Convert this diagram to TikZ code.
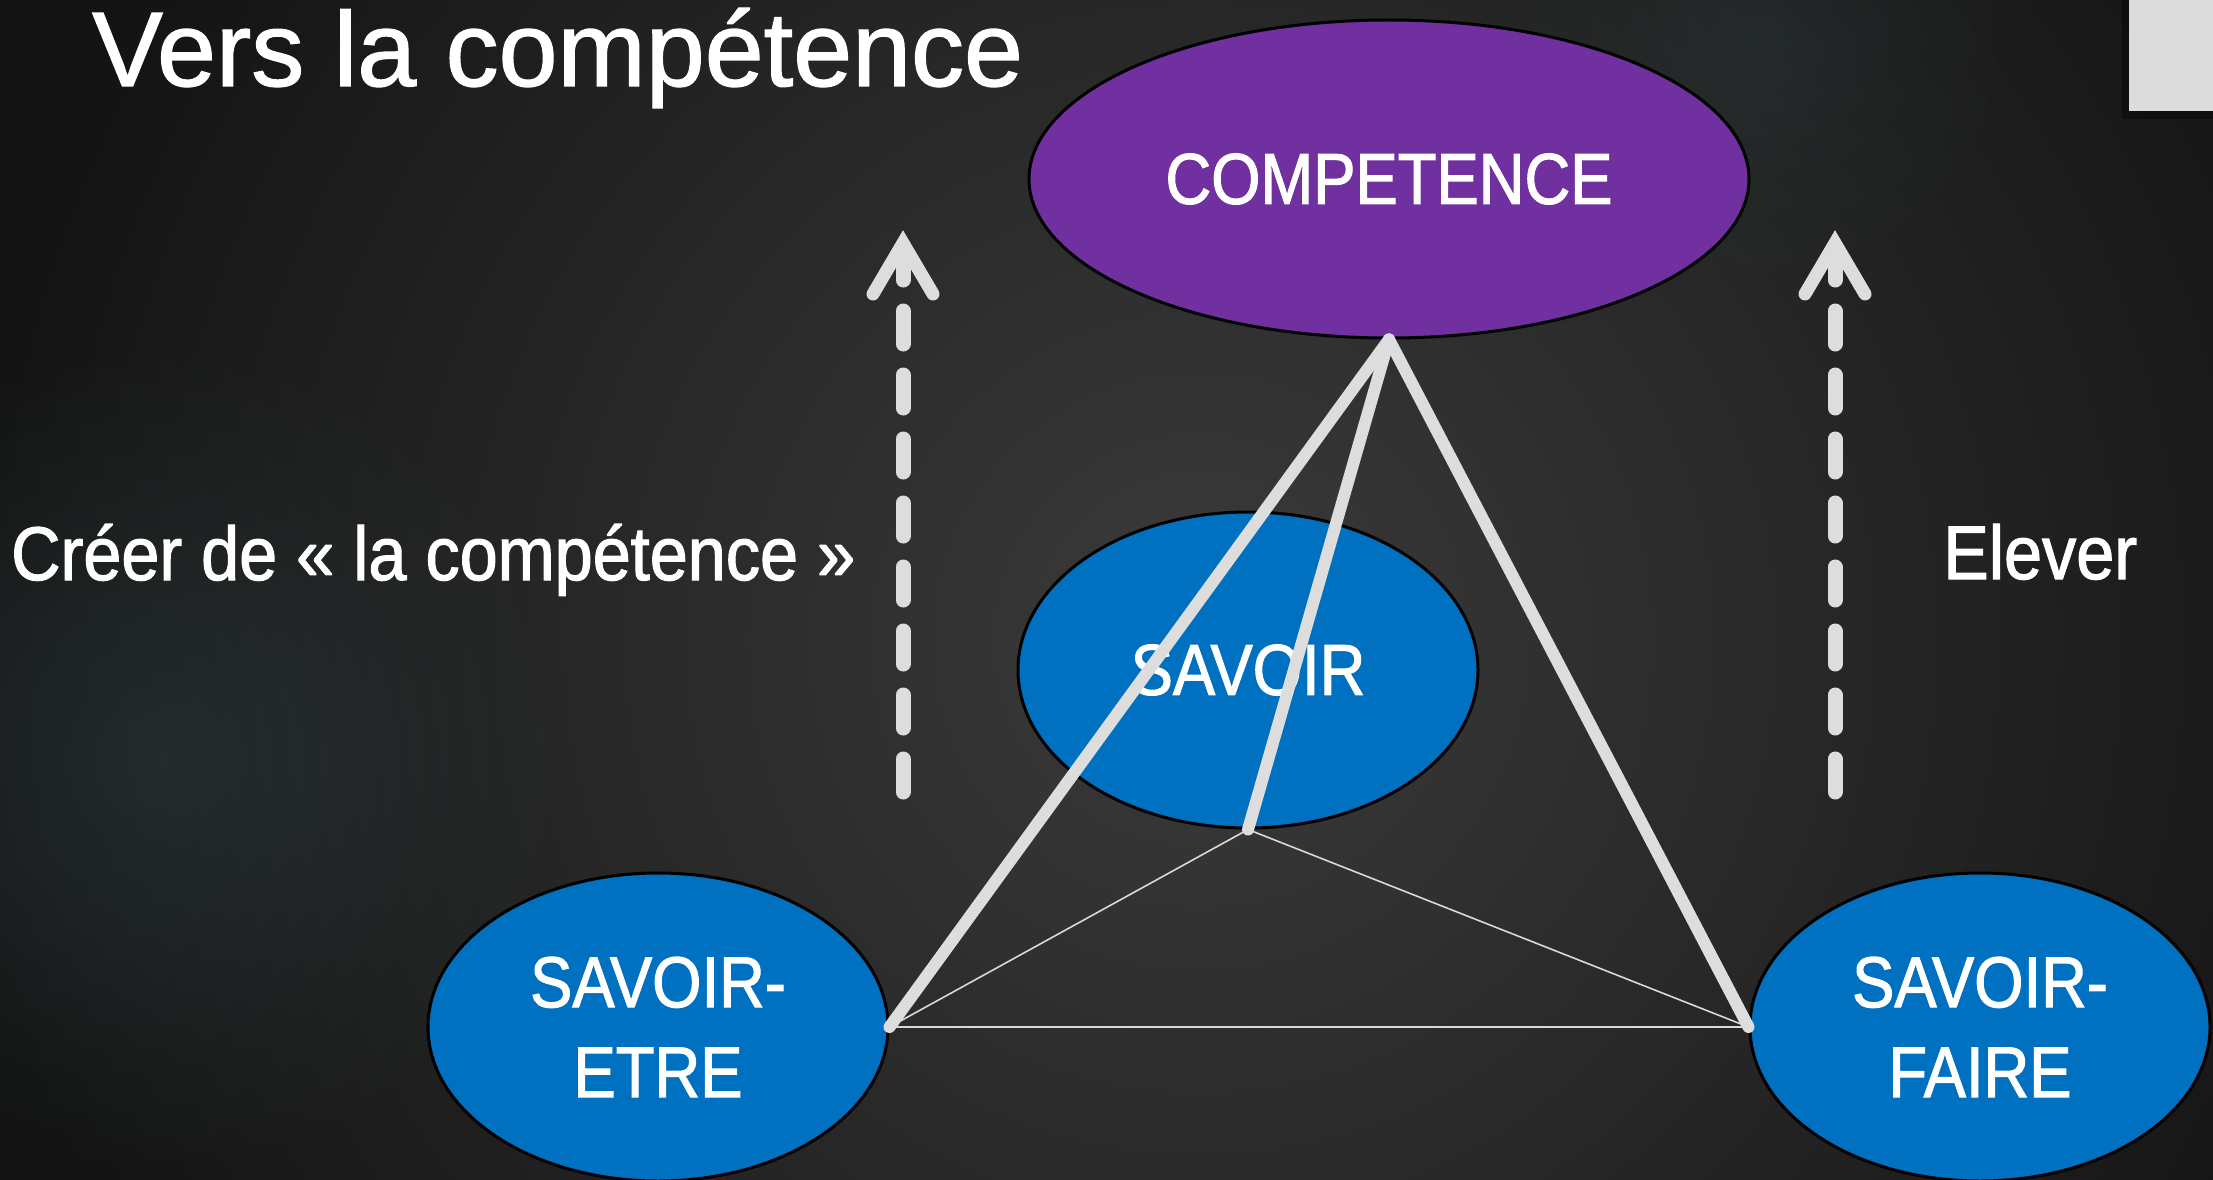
\documentclass[tikz,border=0pt]{standalone}
\usepackage{fontspec}
\setmainfont{Liberation Sans}[FakeBold=1.2]
\newfontfamily\condfont{Liberation Sans}[FakeStretch=0.88, FakeBold=1.5]
\newfontfamily\labelfont{Liberation Sans}[FakeStretch=0.9, FakeBold=1.5]
\usetikzlibrary{shapes.geometric,fadings}
\tikzfading[name=glowfade, inner color=transparent!0, outer color=transparent!100]
\definecolor{bgdark}{HTML}{131313}
\definecolor{bgmid}{HTML}{3B3B3B}
\definecolor{purp}{HTML}{7030A0}
\definecolor{blu}{HTML}{0070C0}
\definecolor{lgray}{HTML}{DDDDDD}
\definecolor{thinline}{HTML}{D9D9D9}
\definecolor{glow}{HTML}{2C3A3A}
\definecolor{boxgray}{HTML}{DCDCDC}
\begin{document}
\begin{tikzpicture}[x=1pt,y=-1pt,
  bubble/.style={ellipse, draw=black, line width=3pt, inner sep=0pt, text=white, align=center,
    font=\condfont\fontsize{72}{90}\selectfont},
  sidelabel/.style={anchor=base west, inner sep=0pt, text=white, font=\labelfont\fontsize{76}{90}\selectfont},
  thickline/.style={draw=lgray, line width=12pt, line cap=round},
  thinlink/.style={draw=thinline, line width=1.6pt},
  arrowleg/.style={draw=lgray, line width=13pt, line cap=round, line join=miter},
  arrowshaft/.style={draw=lgray, line width=15pt, line cap=round},
  arrowdash/.style={draw=lgray, line width=15pt, line cap=round, dash pattern=on 33pt off 31pt}]
\useasboundingbox (0,0) rectangle (2213,1180);
% background
\fill[bgdark] (0,0) rectangle (2213,1180);
\begin{scope}
  \clip (0,0) rectangle (2213,1180);
  \shade[inner color=bgmid, outer color=bgdark] (1200,640) circle (1250);
  \fill[glow, path fading=glowfade, opacity=0.55] (160,760) circle (420);
  \fill[glow, path fading=glowfade, opacity=0.35] (1760,40) circle (260);
\end{scope}
% top-right gray box with shadow
\fill[black, opacity=0.35] (2122,0) rectangle (2213,119);
\fill[boxgray] (2129,0) rectangle (2213,111);
% title
\node[anchor=base west, inner sep=0pt, text=white, font=\fontsize{106}{120}\selectfont] (title) at (92,86) {Vers la compétence};
% side labels
\node[sidelabel] (lblL) at (11,580) {Créer de « la compétence »};
\node[sidelabel] (lblR) at (1943,579) {Elever};
% ellipses
\node[bubble, fill=purp, minimum width=720pt, minimum height=318pt] (comp) at (1389,179) {COMPETENCE};
\node[bubble, fill=blu, minimum width=460pt, minimum height=316pt] (sav) at (1248,670) {SAVOIR};
\node[bubble, fill=blu, minimum width=460pt, minimum height=308pt] (etre) at (658,1027) {SAVOIR-\\ETRE};
\node[bubble, fill=blu, minimum width=460pt, minimum height=308pt] (faire) at (1980,1027) {SAVOIR-\\FAIRE};
% thin links
\draw[thinlink] (sav.south) -- (etre.east);
\draw[thinlink] (sav.south) -- (faire.west);
\draw[thinlink] (etre.east) -- (faire.west);
% thick links
\draw[thickline] (etre.east) -- (comp.south);
\draw[thickline] (comp.south) -- (faire.west);
\draw[thickline] (comp.south) -- (sav.south);
% dashed arrows
\coordinate (Ltip) at (903,243);
\coordinate (Ltop) at (903,311);
\coordinate (Lbot) at (903,792);
\coordinate (Rtip) at (1835,243);
\coordinate (Rtop) at (1835,311);
\coordinate (Rbot) at (1835,792);
\draw[arrowdash] (Ltop) -- (Lbot);
\draw[arrowshaft] (903,252) -- (903,280);
\draw[arrowleg] (873,294) -- (Ltip) -- (933,294);
\draw[arrowdash] (Rtop) -- (Rbot);
\draw[arrowshaft] (1835,252) -- (1835,280);
\draw[arrowleg] (1805,294) -- (Rtip) -- (1865,294);
\end{tikzpicture}
\end{document}
